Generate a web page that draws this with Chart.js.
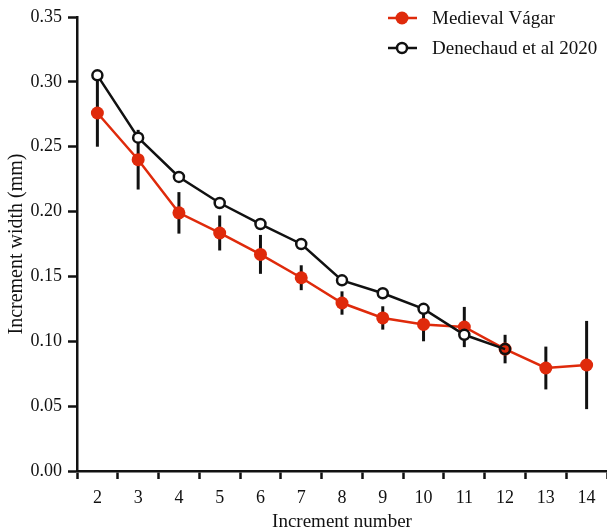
<!DOCTYPE html>
<html>
<head>
<meta charset="utf-8">
<script src="https://cdn.jsdelivr.net/npm/chart.js@4.4.1/dist/chart.umd.min.js"></script>
<style>
  html, body { margin: 0; padding: 0; background: #fff; overflow: hidden; }
</style>
</head>
<body>
<canvas id="chart" width="607" height="528"></canvas>
<script>
// Increment number (x categories)
const increments = ['2', '3', '4', '5', '6', '7', '8', '9', '10', '11', '12', '13', '14'];

// Medieval Vágar: mean width and error (+/-)
const vagarMeans = [0.276, 0.240, 0.199, 0.1835, 0.167, 0.149, 0.1295, 0.118, 0.113, 0.111, 0.094, 0.0794, 0.0817];
const vagarErrors = [0.026, 0.023, 0.016, 0.0135, 0.015, 0.0096, 0.009, 0.009, 0.013, 0.0155, 0.011, 0.0165, 0.034];

// Denechaud et al 2020
const denechaudMeans = [0.305, 0.257, 0.2267, 0.2066, 0.1904, 0.175, 0.147, 0.137, 0.125, 0.105, 0.094, null, null];

// y axis ticks
const yTicks = [0, 0.05, 0.10, 0.15, 0.20, 0.25, 0.30, 0.35];

const RED = '#df2a0b';
const INK = '#111111';
const FONT = '"Liberation Serif", "Times New Roman", serif';

// vertical error bars on the Vágar series, drawn behind the markers
const errorBars = {
    id: 'errorBars',
    beforeDatasetsDraw(chart) {
        const ctx = chart.ctx;
        const x = chart.scales.x;
        const y = chart.scales.y;
        ctx.save();
        ctx.strokeStyle = INK;
        ctx.lineWidth = 3;
        vagarMeans.forEach((m, i) => {
            const px = x.getPixelForValue(i);
            ctx.beginPath();
            ctx.moveTo(px, y.getPixelForValue(m + vagarErrors[i]));
            ctx.lineTo(px, y.getPixelForValue(m - vagarErrors[i]));
            ctx.stroke();
        });
        ctx.restore();
    }
};

// legend: line + marker, as in the original figure
const lineLegend = {
    id: 'lineLegend',
    afterDraw(chart) {
        const ctx = chart.ctx;
        const items = [
            { text: 'Medieval Vágar', color: RED, fill: RED, y: 18 },
            { text: 'Denechaud et al 2020', color: INK, fill: '#ffffff', y: 48 }
        ];
        ctx.save();
        items.forEach(it => {
            ctx.strokeStyle = it.color;
            ctx.lineWidth = 2.5;
            ctx.beginPath();
            ctx.moveTo(388, it.y);
            ctx.lineTo(417, it.y);
            ctx.stroke();
            ctx.beginPath();
            ctx.arc(402, it.y, it.fill === RED ? 6.5 : 5, 0, Math.PI * 2);
            ctx.fillStyle = it.fill;
            ctx.fill();
            if (it.fill !== RED) ctx.stroke();
            ctx.fillStyle = INK;
            ctx.font = '19px ' + FONT;
            ctx.textBaseline = 'middle';
            ctx.fillText(it.text, 432, it.y + 1);
        });
        ctx.restore();
    }
};

new Chart(document.getElementById('chart'), {
    type: 'line',
    data: {
        labels: increments,
        datasets: [
            {
                label: 'Medieval Vágar',
                data: vagarMeans,
                borderColor: RED,
                backgroundColor: RED,
                borderWidth: 2.5,
                pointRadius: 6.5,
                pointBorderWidth: 0,
                pointBackgroundColor: RED,
                tension: 0,
                clip: false,
                order: 2
            },
            {
                label: 'Denechaud et al 2020',
                data: denechaudMeans,
                borderColor: INK,
                borderWidth: 2.5,
                pointRadius: 5,
                pointBorderWidth: 2.5,
                pointBorderColor: INK,
                pointBackgroundColor: denechaudMeans.map((v, i) => i === 10 ? 'rgba(0,0,0,0)' : '#ffffff'),
                spanGaps: false,
                tension: 0,
                clip: false,
                order: 1
            }
        ]
    },
    options: {
        responsive: false,
        animation: false,
        layout: { autoPadding: false, padding: { top: 17, right: 0, left: 0, bottom: 0 } },
        plugins: {
            legend: { display: false },
            tooltip: { enabled: false }
        },
        scales: {
            x: {
                type: 'category',
                offset: true,
                border: { color: INK, width: 2.5 },
                grid: {
                    display: true,
                    offset: true,
                    drawOnChartArea: false,
                    drawTicks: true,
                    tickLength: 8,
                    tickWidth: 2.5,
                    tickColor: INK
                },
                ticks: {
                    color: INK,
                    font: { family: FONT, size: 18 },
                    padding: 8,
                    maxRotation: 0,
                    autoSkip: false
                },
                title: {
                    display: true,
                    text: 'Increment number',
                    color: INK,
                    font: { family: FONT, size: 19 },
                    padding: { top: 0, bottom: -5 }
                },
                afterFit(scale) {
                    scale.height = 57;
                    scale.paddingRight = 0;
                    scale.paddingLeft = 0;
                }
            },
            y: {
                min: 0,
                max: 0.35,
                border: { color: INK, width: 2.5 },
                grid: {
                    display: true,
                    drawOnChartArea: false,
                    drawTicks: true,
                    tickLength: 9,
                    tickWidth: 2.5,
                    tickColor: INK
                },
                afterBuildTicks(scale) {
                    scale.ticks = yTicks.map(v => ({ value: v }));
                },
                ticks: {
                    color: INK,
                    font: { family: FONT, size: 18 },
                    padding: 6,
                    callback: v => Number(v).toFixed(2)
                },
                title: {
                    display: true,
                    text: 'Increment width (mm)',
                    color: INK,
                    font: { family: FONT, size: 20 },
                    padding: { top: 5, bottom: 0 }
                },
                afterFit(scale) { scale.width = 77; }
            }
        }
    },
    plugins: [errorBars, lineLegend]
});
</script>
</body>
</html>
